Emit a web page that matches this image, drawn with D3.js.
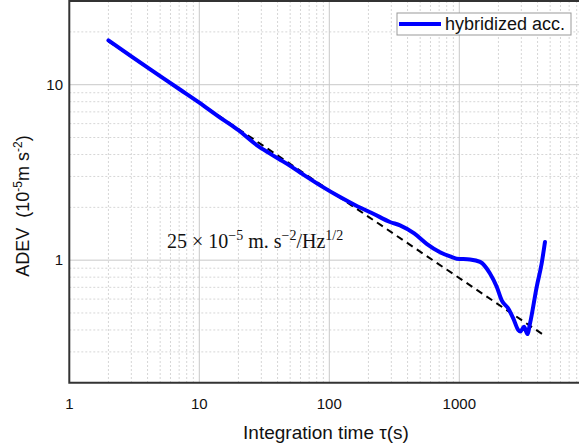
<!DOCTYPE html>
<html>
<head>
    <meta charset="utf-8" />
    <title>ADEV</title>
    <style>
        body { margin: 0; background: #fff; }
        text { font-family: "Liberation Sans", Arial, sans-serif; fill: #111; }
        .grid-major line { stroke: #c8c8c8; stroke-width: 1px; }
        .grid-minor line { stroke: #d6d6d6; stroke-width: 1px; stroke-dasharray: 2,2; }
    </style>
</head>
<body>
    <script src="https://d3js.org/d3.v7.min.js"></script>
    <script>
      var width = 579;
      var height = 448;

      // measured Allan deviation (tau in s, ADEV in 1e-5 m s-2)
      var tau = [2, 3, 5, 7, 10, 14, 20, 28, 35, 47, 60, 85, 121, 160, 218, 293, 350, 450, 561,
                 711, 850, 955, 1209, 1445, 1722, 1940, 2120, 2380, 2600, 2840, 2950, 3150,
                 3340, 3500, 3940, 4300, 4560];
      var adev = [17.9, 14.5, 11.2, 9.45, 7.9, 6.6, 5.5, 4.5, 4.05, 3.55, 3.15, 2.67, 2.29, 2.05,
                  1.84, 1.65, 1.58, 1.42, 1.24, 1.11, 1.05, 1.02, 1.01, 0.978, 0.84, 0.705, 0.59,
                  0.53, 0.466, 0.40, 0.392, 0.417, 0.379, 0.436, 0.705, 0.957, 1.27];

      // white-noise reference line: 25 / sqrt(tau)
      var fitCoef = 25;
      var fitTau = [2, 4500];

      var xTicks = [1, 10, 100, 1000];
      var yTicks = [1, 10];

      var mLeft = 69.3, mTop = 1, mBottom = 382.8;

      var x = d3.scaleLog().domain([1, 10000]).range([mLeft, mLeft + 520]);
      var y = d3.scaleLog().domain([0.2, 30]).range([mBottom, mTop]);

      var svg = d3.select("body").append("svg")
        .attr("width", width)
        .attr("height", height);

      svg.append("defs").append("clipPath").attr("id", "clip")
        .append("rect").attr("x", mLeft).attr("y", mTop)
        .attr("width", width - mLeft).attr("height", mBottom - mTop);

      // minor grid
      var xMinor = [], yMinor = [];
      [1, 10, 100, 1000].forEach(function(d) {
        for (var k = 2; k <= 9; k++) xMinor.push(d * k);
      });
      [0.1, 1, 10].forEach(function(d) {
        for (var k = 2; k <= 9; k++) if (d * k >= 0.2 && d * k <= 30) yMinor.push(d * k);
      });

      var gMinor = svg.append("g").attr("class", "grid-minor").attr("clip-path", "url(#clip)");
      gMinor.selectAll("line.v").data(xMinor).enter().append("line")
        .attr("x1", function(d) { return x(d); }).attr("x2", function(d) { return x(d); })
        .attr("y1", mTop).attr("y2", mBottom);
      gMinor.selectAll("line.h").data(yMinor).enter().append("line")
        .attr("y1", function(d) { return y(d); }).attr("y2", function(d) { return y(d); })
        .attr("x1", mLeft).attr("x2", width);

      var gMajor = svg.append("g").attr("class", "grid-major");
      gMajor.selectAll("line.v").data(xTicks.slice(1)).enter().append("line")
        .attr("x1", function(d) { return x(d); }).attr("x2", function(d) { return x(d); })
        .attr("y1", mTop).attr("y2", mBottom);
      gMajor.selectAll("line.h").data(yTicks).enter().append("line")
        .attr("y1", function(d) { return y(d); }).attr("y2", function(d) { return y(d); })
        .attr("x1", mLeft).attr("x2", width);

      // fit line (dashed) then data
      var fitLine = d3.line()
        .x(function(d) { return x(d); })
        .y(function(d) { return y(fitCoef / Math.sqrt(d)); });
      svg.append("path")
        .attr("d", fitLine(fitTau))
        .attr("fill", "none")
        .attr("stroke", "#000")
        .attr("stroke-width", 2)
        .attr("stroke-dasharray", "7,5");

      var line = d3.line()
        .curve(d3.curveMonotoneX)
        .x(function(d, i) { return x(tau[i]); })
        .y(function(d, i) { return y(adev[i]); });
      svg.append("path")
        .attr("d", line(adev))
        .attr("fill", "none")
        .attr("stroke", "#0000ff")
        .attr("stroke-width", 4)
        .attr("stroke-linejoin", "round")
        .attr("stroke-linecap", "round");

      // frame
      svg.append("path")
        .attr("d", "M" + width + "," + mTop + "H" + mLeft + "V" + mBottom + "H" + width)
        .attr("fill", "none")
        .attr("stroke", "#333")
        .attr("stroke-width", 2);

      // tick labels
      svg.append("g").selectAll("text").data(xTicks).enter().append("text")
        .attr("x", function(d) { return x(d); })
        .attr("y", 409)
        .attr("text-anchor", "middle")
        .style("font-size", "15px")
        .text(function(d) { return d; });

      svg.append("g").selectAll("text").data(yTicks).enter().append("text")
        .attr("x", 63)
        .attr("y", function(d) { return y(d) + 5; })
        .attr("text-anchor", "end")
        .style("font-size", "15px")
        .text(function(d) { return d; });

      // axis titles
      svg.append("text")
        .attr("x", 326)
        .attr("y", 439)
        .attr("text-anchor", "middle")
        .style("font-size", "19px")
        .text("Integration time \u03C4(s)");

      var yl = svg.append("text")
        .attr("transform", "translate(29,206) rotate(-90)")
        .attr("text-anchor", "middle")
        .style("font-size", "18px");
      yl.append("tspan").text("ADEV\u00A0\u00A0(10");
      yl.append("tspan").attr("dy", -7).style("font-size", "12px").text("-5");
      yl.append("tspan").attr("dy", 7).text("m s");
      yl.append("tspan").attr("dy", -7).style("font-size", "12px").text("-2");
      yl.append("tspan").attr("dy", 7).text(")");

      // annotation
      var ann = svg.append("text")
        .attr("x", 167)
        .attr("y", 248)
        .style("font-family", "'Liberation Serif', 'DejaVu Serif', serif")
        .style("font-size", "20px");
      ann.append("tspan").text("25 \u00D7 10");
      ann.append("tspan").attr("dy", -8).style("font-size", "14px").text("\u22125");
      ann.append("tspan").attr("dy", 8).text(" m. s");
      ann.append("tspan").attr("dy", -8).style("font-size", "14px").text("\u22122");
      ann.append("tspan").attr("dy", 8).text("/Hz");
      ann.append("tspan").attr("dy", -8).style("font-size", "14px").text("1/2");

      // legend
      var lg = svg.append("g");
      lg.append("rect")
        .attr("x", 397).attr("y", 13).attr("width", 174).attr("height", 22)
        .attr("fill", "#fff").attr("stroke", "#999").attr("stroke-width", 1);
      lg.append("line")
        .attr("x1", 399).attr("x2", 441).attr("y1", 24).attr("y2", 24)
        .attr("stroke", "#0000ff").attr("stroke-width", 4);
      lg.append("text")
        .attr("x", 445).attr("y", 30)
        .style("font-size", "18px")
        .text("hybridized acc.");
    </script>
</body>
</html>
